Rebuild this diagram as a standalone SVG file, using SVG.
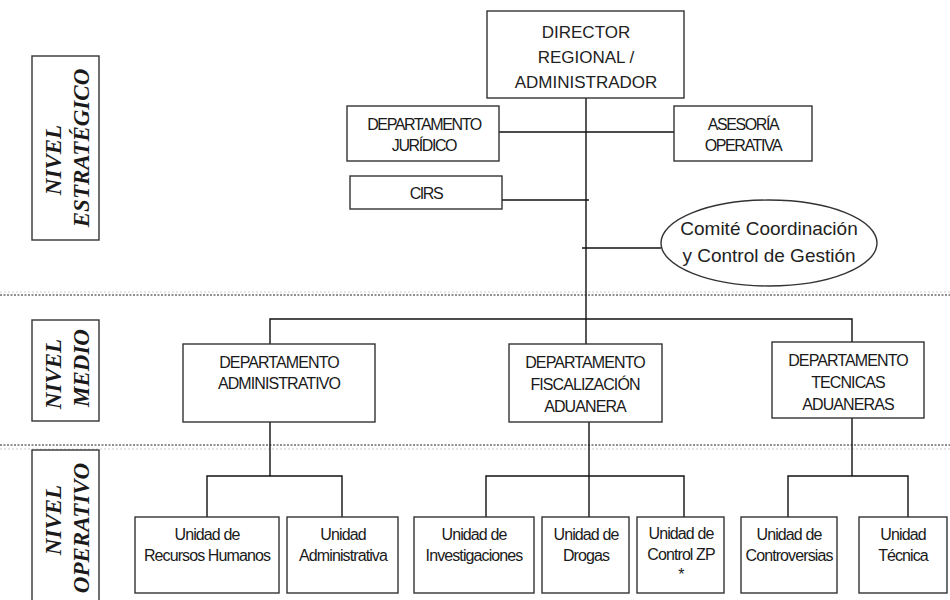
<svg xmlns="http://www.w3.org/2000/svg" width="950" height="600" viewBox="0 0 950 600">
<style>
.box{fill:#fff;stroke:#333;stroke-width:1.4}
.lvl{fill:#fff;stroke:#333;stroke-width:1.4}
.ln{fill:none;stroke:#111;stroke-width:1.4}
.sep{stroke:#222;stroke-width:1.2;stroke-dasharray:2 1.5}
.sep2{stroke:#ccc;stroke-width:1;stroke-dasharray:2 2}
.t{font-family:"Liberation Sans",Arial,sans-serif;font-size:16px;fill:#1a1a1a;text-anchor:middle;letter-spacing:-0.9px}
.td{font-family:"Liberation Sans",Arial,sans-serif;font-size:17px;fill:#222;text-anchor:middle}
.tc{font-family:"Liberation Sans",Arial,sans-serif;font-size:19px;fill:#222;text-anchor:middle}
.tn{font-family:"Liberation Serif","Times New Roman",serif;font-size:23px;font-weight:bold;font-style:italic;fill:#1a1a1a;text-anchor:middle}
</style>
<rect width="950" height="600" fill="#fff"/>

<g id="separators">
<line class="sep2" x1="0" y1="292" x2="950" y2="292"/>
<line class="sep" x1="0" y1="295" x2="950" y2="295"/>
<line class="sep" x1="0" y1="445" x2="950" y2="445"/>
<line class="sep2" x1="0" y1="449" x2="950" y2="449"/>
</g>

<g id="connectors">
<line class="ln" x1="586" y1="98" x2="586" y2="344"/>
<line class="ln" x1="499" y1="132" x2="674" y2="132"/>
<line class="ln" x1="502" y1="200" x2="589" y2="200"/>
<line class="ln" x1="582" y1="248" x2="661" y2="248"/>
<polyline class="ln" points="270,344 270,319 852,319 852,342"/>
<line class="ln" x1="270" y1="422" x2="270" y2="476"/>
<polyline class="ln" points="207,517 207,476 342,476 342,517"/>
<line class="ln" x1="589" y1="422" x2="589" y2="517"/>
<polyline class="ln" points="486,517 486,476 684,476 684,517"/>
<line class="ln" x1="852" y1="418" x2="852" y2="476"/>
<polyline class="ln" points="788,517 788,476 908,476 908,517"/>
</g>

<g id="nivel-estrategico">
<rect class="lvl" x="32" y="56" width="67" height="184"/>
<text class="tn" transform="translate(61,160) rotate(-90)">NIVEL</text>
<text class="tn" transform="translate(89,148) rotate(-90)">ESTRATÉGICO</text>
</g>
<g id="nivel-medio">
<rect class="lvl" x="32" y="320" width="67" height="101"/>
<text class="tn" transform="translate(61,374) rotate(-90)">NIVEL</text>
<text class="tn" transform="translate(89,368) rotate(-90)">MEDIO</text>
</g>
<g id="nivel-operativo">
<rect class="lvl" x="32" y="450" width="67" height="160"/>
<text class="tn" transform="translate(61,520) rotate(-90)">NIVEL</text>
<text class="tn" transform="translate(89,528) rotate(-90)">OPERATIVO</text>
</g>

<g id="director">
<rect class="box" x="487" y="11" width="197" height="87"/>
<text class="td" x="586" y="38">DIRECTOR</text>
<text class="td" x="586" y="63">REGIONAL /</text>
<text class="td" x="586" y="88">ADMINISTRADOR</text>
</g>
<g id="juridico">
<rect class="box" x="347" y="106" width="152" height="55"/>
<text class="t" x="424" y="130" style="letter-spacing:-1.4px">DEPARTAMENTO</text>
<text class="t" x="424" y="151" style="letter-spacing:-1.4px">JURÍDICO</text>
</g>
<g id="asesoria">
<rect class="box" x="674" y="106" width="138" height="55"/>
<text class="t" x="743" y="130" style="letter-spacing:-1.4px">ASESORÍA</text>
<text class="t" x="743" y="151" style="letter-spacing:-1.4px">OPERATIVA</text>
</g>
<g id="cirs">
<rect class="box" x="350" y="176" width="152" height="33"/>
<text class="t" x="426" y="199" style="letter-spacing:-1.4px">CIRS</text>
</g>
<g id="comite">
<ellipse cx="769" cy="243" rx="108" ry="43" fill="#fff" stroke="#333" stroke-width="1.4"/>
<text class="tc" x="769" y="235">Comité Coordinación</text>
<text class="tc" x="769" y="262">y Control de Gestión</text>
</g>

<g id="dep-administrativo">
<rect class="box" x="183" y="344" width="192" height="78"/>
<text class="t" x="279" y="368">DEPARTAMENTO</text>
<text class="t" x="279" y="389">ADMINISTRATIVO</text>
</g>
<g id="dep-fiscalizacion">
<rect class="box" x="509" y="344" width="153" height="78"/>
<text class="t" x="585" y="368">DEPARTAMENTO</text>
<text class="t" x="585" y="390">FISCALIZACIÓN</text>
<text class="t" x="585" y="412">ADUANERA</text>
</g>
<g id="dep-tecnicas">
<rect class="box" x="772" y="342" width="152" height="76"/>
<text class="t" x="848" y="366">DEPARTAMENTO</text>
<text class="t" x="848" y="388">TECNICAS</text>
<text class="t" x="848" y="410">ADUANERAS</text>
</g>

<g id="u-rrhh">
<rect class="box" x="135" y="517" width="144" height="76"/>
<text class="t" x="207" y="540">Unidad de</text>
<text class="t" x="207" y="561">Recursos Humanos</text>
</g>
<g id="u-administrativa">
<rect class="box" x="287" y="517" width="111" height="76"/>
<text class="t" x="343" y="540">Unidad</text>
<text class="t" x="343" y="561">Administrativa</text>
</g>
<g id="u-investigaciones">
<rect class="box" x="414" y="517" width="120" height="76"/>
<text class="t" x="474" y="540">Unidad de</text>
<text class="t" x="474" y="561">Investigaciones</text>
</g>
<g id="u-drogas">
<rect class="box" x="542" y="517" width="87" height="76"/>
<text class="t" x="586" y="540">Unidad de</text>
<text class="t" x="586" y="561">Drogas</text>
</g>
<g id="u-control-zp">
<rect class="box" x="637" y="517" width="87" height="76"/>
<text class="t" x="681" y="539">Unidad de</text>
<text class="t" x="681" y="560">Control ZP</text>
<text class="t" x="681" y="580">*</text>
</g>
<g id="u-controversias">
<rect class="box" x="741" y="517" width="96" height="76"/>
<text class="t" x="789" y="540">Unidad de</text>
<text class="t" x="789" y="561">Controversias</text>
</g>
<g id="u-tecnica">
<rect class="box" x="859" y="517" width="88" height="76"/>
<text class="t" x="903" y="540">Unidad</text>
<text class="t" x="903" y="561">Técnica</text>
</g>
</svg>
